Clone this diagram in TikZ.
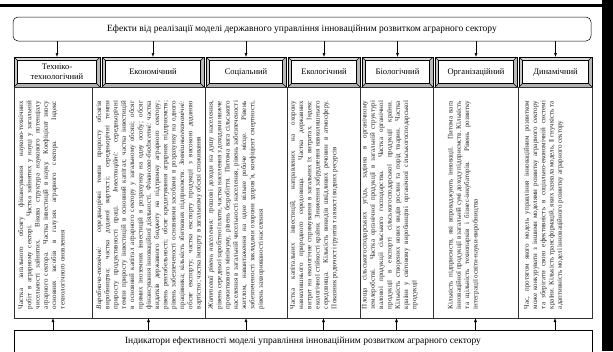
\documentclass[tikz,border=0pt]{standalone}
\usepackage{fontspec}
\setmainfont{Liberation Serif}
\usetikzlibrary{arrows.meta}
\hyphenpenalty=10000
\tolerance=9999
\emergencystretch=20pt
\hbadness=10000
\tikzset{
  arr/.style={-{Latex[length=4pt,width=3pt]}, line width=0.5pt},
  bigbox/.style={line width=0.5pt, inner sep=0pt, outer sep=0pt, font=\fontsize{9.5}{11}\selectfont},
  body/.style={draw=black!80, line width=0.5pt, anchor=north west, inner sep=0pt, outer sep=0pt, minimum height=231pt},
  btext/.style={rotate=90, anchor=north west, inner sep=0pt, outer sep=0pt, align=justify, text width=208pt,
    text=black!85, font=\fontsize{7}{8.3}\selectfont},
  hdr/.style={draw=black, line width=0.5pt, minimum height=30pt, inner sep=0pt, outer sep=0pt,
    anchor=north west, font=\fontsize{8.5}{10}\selectfont, align=center,
    path picture={
      \fill[gray!30] (path picture bounding box.north west) -- (path picture bounding box.north east)
        -- ([shift={(-3.5pt,-3.5pt)}]path picture bounding box.north east)
        -- ([shift={(3.5pt,-3.5pt)}]path picture bounding box.north west) -- cycle;
      \fill[gray!55] (path picture bounding box.north east) -- (path picture bounding box.south east)
        -- ([shift={(-3.5pt,3.5pt)}]path picture bounding box.south east)
        -- ([shift={(-3.5pt,-3.5pt)}]path picture bounding box.north east) -- cycle;
      \fill[gray!60] (path picture bounding box.south east) -- (path picture bounding box.south west)
        -- ([shift={(3.5pt,3.5pt)}]path picture bounding box.south west)
        -- ([shift={(-3.5pt,3.5pt)}]path picture bounding box.south east) -- cycle;
      \fill[gray!42] (path picture bounding box.south west) -- (path picture bounding box.north west)
        -- ([shift={(3.5pt,-3.5pt)}]path picture bounding box.north west)
        -- ([shift={(3.5pt,3.5pt)}]path picture bounding box.south west) -- cycle;
      \draw[fill=white, line width=0.4pt] ([shift={(3.5pt,-3.5pt)}]path picture bounding box.north west)
        rectangle ([shift={(-3.5pt,3.5pt)}]path picture bounding box.south east);
      \draw[line width=0.4pt] (path picture bounding box.north west) -- ([shift={(3.5pt,-3.5pt)}]path picture bounding box.north west);
      \draw[line width=0.4pt] (path picture bounding box.north east) -- ([shift={(-3.5pt,-3.5pt)}]path picture bounding box.north east);
      \draw[line width=0.4pt] (path picture bounding box.south east) -- ([shift={(-3.5pt,3.5pt)}]path picture bounding box.south east);
      \draw[line width=0.4pt] (path picture bounding box.south west) -- ([shift={(3.5pt,3.5pt)}]path picture bounding box.south west);
    }},
}
\begin{document}
\begin{tikzpicture}[x=1pt,y=-1pt]
\useasboundingbox[fill=white] (0,0) rectangle (613,351);
% scan frame
\fill[black] (0,3.5) rectangle (613,7);
\fill[black] (602,0) rectangle (613,351);

% top box
\node[bigbox, draw=black, rounded corners=5pt, minimum width=578pt, minimum height=24pt] (top) at (302,29)
  {Ефекти від реалізації моделі державного управління інноваційним розвитком аграрного сектору};

% headers
\node[hdr, minimum width=86pt] (h1) at (14,57) {Техніко-\\технологічний};
\node[hdr, minimum width=102pt] (h2) at (102,57) {Економічний};
\node[hdr, minimum width=80pt] (h3) at (206,57) {Соціальний};
\node[hdr, minimum width=72pt] (h4) at (288,57) {Екологічний};
\node[hdr, minimum width=71pt] (h5) at (362,57) {Біологічний};
\node[hdr, minimum width=82pt] (h6) at (435,57) {Організаційний};
\node[hdr, minimum width=73pt] (h7) at (519,57) {Динамічний};

% body cells
\node[body, minimum width=78pt] (b1) at (14,87) {};
\node[body, minimum width=113pt] (b2) at (92,87) {};
\node[body, minimum width=82pt] (b3) at (205,87) {};
\node[body, minimum width=73pt] (b4) at (287,87) {};
\node[body, minimum width=73pt] (b5) at (360,87) {};
\node[body, minimum width=85pt] (b6) at (433,87) {};
\node[body, minimum width=74pt] (b7) at (518,87) {};

% body texts
\node[btext] (t1) at (18,309) {Частка загального обсягу фінансування науково-технічних\linebreak
робіт в аграрному секторі. Частка зайнятих у науці у загальній\linebreak
чисельності зайнятих. Вікова структура наукового потенціалу\linebreak
аграрного сектора. Частка інвестицій в науку. Коефіцієнт зносу\linebreak
основних засобів в галузях аграрного сектора. Індекс\linebreak
технологічного оновлення};

\node[btext] (t2) at (96,309) {\textit{Виробничо-технічні:} середньорічні темпи приросту обсягів виробництва; частка доданої вартості; середньорічні темпи приросту продуктивності праці. \textit{Інвестиційні:} середньорічні темпи приросту інвестицій в основний капітал; частка інвестицій в основний капітал аграрного сектору у загальному обсязі; обсяг прямих іноземних інвестицій в розрахунку на одну особу; обсяг фінансування інноваційної діяльності. \textit{Фінансово-бюджетні:} частка видатків державного бюджету на підтримку аграрного сектору; рівень рентабельності; обсяг кредитування аграрних підприємств; рівень забезпеченості основними засобами в розрахунку на одного працівника; кількість збиткових підприємств. \textit{Зовнішньоекономічні:} обсяг експорту; частка експорту продукції з високою доданою вартістю; частка імпорту в загальному обсязі споживання};

\node[btext] (t3) at (208,309) {\textit{Життєвий рівень населення:} грошові доходи на душу населення, рівень середньої заробітної плати, частка населення з доходами нижче прожиткового мінімуму, рівень безробіття. Питома вага сільського населення в загальній чисельності населення, рівень забезпеченості житлом, навантаження на одне вільне робоче місце. Рівень забезпеченості закладами охорони здоров'я, коефіцієнт смертності, рівень захворюваності населення};

\node[btext] (t4) at (290,309) {Частка капітальних інвестицій, направлених на охорону навколишнього природного середовища. Частка державних витрат на екологічне спрямування в загальних їх витратах. Індекс екологічної стійкості країни. Зниження забруднення навколишнього середовища. Кількість викидів шкідливих речовин в атмосферу. Показник родючості ґрунтів та якості водних ресурсів};

\node[btext] (t5) at (362,309) {Площа сільськогосподарських угідь, задіяна в органічному землеробстві. Частка органічної продукції в загальній структурі валової продукції сільського господарства. Частка органічної продукції в експорті сільськогосподарської продукції країни. Кількість створених нових видів рослин та порід тварин. Частка країни у світовому виробництві органічної сільськогосподарської продукції};

\node[btext] (t6) at (448,309) {Кількість підприємств, які впроваджують інновації. Питома вага інноваційної продукції в загальній сумі доходу підприємств. Кількість та щільність технопарків і бізнес-інкубаторів. Рівень розвитку інтеграції освіти-науки-виробництва};

\node[btext] (t7) at (524,309) {Час, протягом якого модель управління інноваційним розвитком може конкурувати з іншими моделями розвитку аграрного сектору та зберігати свою ефективність в соціально-економічній системі країни. Кількість трансформацій, яких зазнала модель, її гнучкість та адаптивність моделі інноваційного розвитку аграрного сектору};

% bottom box
\node[bigbox, minimum width=578pt, minimum height=22pt, anchor=north west] (bot) at (14,330)
  {Індикатори ефективності моделі управління інноваційним розвитком аграрного сектору};
\draw[line width=0.5pt] (bot.south west) -- (bot.north west) -- (bot.north east) -- (bot.south east);

% arrows
\foreach \i in {1,...,7} {
  \draw[arr] (top.south -| h\i) -- (h\i.north);
  \draw[arr] (bot.north -| b\i) -- (b\i.south);
}
\end{tikzpicture}
\end{document}
